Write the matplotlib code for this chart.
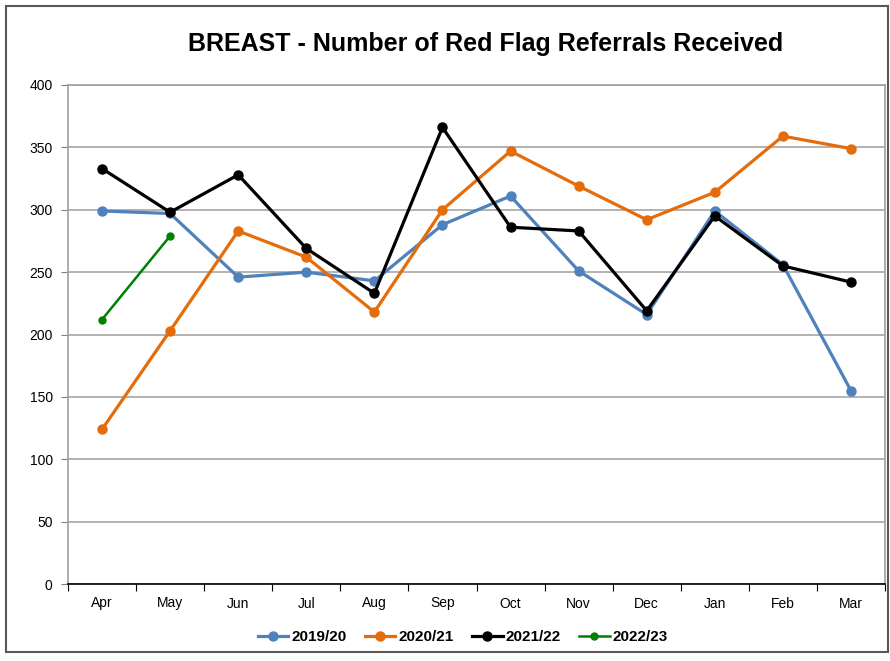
import matplotlib
matplotlib.use("Agg")
import matplotlib.pyplot as plt
from matplotlib.patches import Rectangle

months = ["Apr", "May", "Jun", "Jul", "Aug", "Sep", "Oct", "Nov", "Dec", "Jan", "Feb", "Mar"]
s2019 = [299, 297, 246, 250, 243, 288, 311, 251, 216, 299, 256, 155]
s2020 = [124, 203, 283, 262, 218, 300, 347, 319, 292, 314, 359, 349]
s2021 = [333, 298, 328, 269, 233, 366, 286, 283, 219, 295, 255, 242]
s2022 = [212, 279]
yticks = [0, 50, 100, 150, 200, 250, 300, 350, 400]

plt.rcParams['font.family'] = ['Liberation Sans', 'DejaVu Sans']

fig = plt.figure(figsize=(8.9, 6.61), dpi=100)
W, H = 890, 661
ax = fig.add_axes([68 / W, 1 - 584 / H, (885 - 68) / W, (584 - 85) / H])

x = list(range(len(months)))
ax.plot(x, s2019, color="#4F81BD", lw=2.3, marker="o", ms=6.5, label="2019/20", zorder=3)
ax.plot(x, s2020, color="#E46C0A", lw=2.3, marker="o", ms=6.5, label="2020/21", zorder=3)
ax.plot(x, s2021, color="#000000", lw=2.3, marker="o", ms=6.5, label="2021/22", zorder=4)
ax.plot(x[:len(s2022)], s2022, color="#008000", lw=1.8, marker="o", ms=5, label="2022/23", zorder=4)

ax.set_xlim(-0.5, len(months) - 0.5)
ax.set_ylim(0, 400)
ax.set_yticks(yticks)
ax.set_yticklabels([str(v) for v in yticks], fontsize=10)
ax.yaxis.grid(True, color="#A6A6A6", lw=1.2)
ax.set_axisbelow(True)

ax.set_xticks([i - 0.5 for i in range(len(months) + 1)], minor=False)
ax.set_xticklabels([])
ax.set_xticks(x, minor=True)
ax.set_xticklabels(months, minor=True, fontsize=10)
ax.tick_params(axis="x", which="major", direction="out", length=5, color="#000000")
ax.tick_params(axis="x", which="minor", length=0, pad=9)
ax.tick_params(axis="y", direction="out", length=5, color="#808080", pad=6)

for side in ["left", "right", "top"]:
    ax.spines[side].set_color("#A0A0A0")
    ax.spines[side].set_linewidth(1.2)
ax.spines["bottom"].set_color("#000000")
ax.spines["bottom"].set_linewidth(1.2)

fig.text(0.5 * (68 + 885) / W + 0.01, 1 - 44 / H, "BREAST - Number of Red Flag Referrals Received",
         ha="center", va="center", fontsize=18, fontweight="bold")

leg = fig.legend(loc="center", bbox_to_anchor=(0.52, 1 - 637 / H), ncol=4, frameon=False,
                 prop={"weight": "bold", "size": 11}, handlelength=2.0, columnspacing=1.2,
                 handletextpad=0.2)

fig.patches.append(Rectangle((6 / W, 1 - 652 / H), 882 / W, 646 / H, transform=fig.transFigure,
                             fill=False, edgecolor="#595959", lw=1.5))

fig.savefig("out.png", dpi=100)
